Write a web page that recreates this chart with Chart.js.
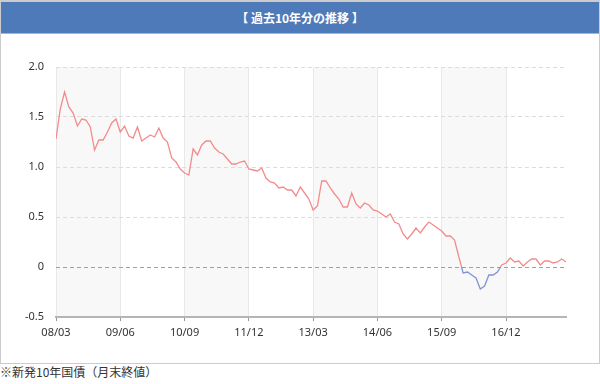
<!DOCTYPE html>
<html>
<head>
<meta charset="utf-8">
<script src="https://cdn.jsdelivr.net/npm/chart.js"></script>
<style>
  body { margin: 0; background: #fff; width: 600px; height: 384px; position: relative; overflow: hidden; }
  .box { position: absolute; left: 0; top: 0; width: 598px; height: 361px; border: 1px solid #ccc; border-top: 2px solid #ccc; }
  .title { position: absolute; left: 1px; top: 2px; width: 598px; height: 31px; background: #4f7ab9; border-bottom: 1px solid #9fb5da;
           color: #fff; font: bold 12px "Noto Sans CJK JP", sans-serif; line-height: 31px; text-align: center; }
  .wrap { position: absolute; left: 1px; top: 34px; width: 598px; height: 329px; }
  .note { position: absolute; left: 0; top: 363px; font: 12px "Noto Sans CJK JP", sans-serif; color: #333; line-height: 17px; }
</style>
</head>
<body>
<div class="box"></div>
<div class="title">【 過去10年分の推移 】</div>
<div class="wrap"><canvas id="myChart"></canvas></div>
<div class="note">※新発10年国債（月末終値）</div>

<script>
  // monthly closing yield, 2008/03 .. 2018/02
  const startYear = 2008, startMonth = 3;
  const yields = [
    1.28, 1.58, 1.75, 1.60, 1.54, 1.41, 1.48, 1.47, 1.40, 1.17,              // 2008 (Mar-Dec)
    1.27, 1.27, 1.35, 1.44, 1.48, 1.35, 1.41, 1.31, 1.29, 1.40, 1.26, 1.29,  // 2009
    1.32, 1.30, 1.39, 1.29, 1.25, 1.09, 1.05, 0.98, 0.94, 0.92, 1.18, 1.12,  // 2010
    1.22, 1.26, 1.26, 1.19, 1.15, 1.13, 1.08, 1.03, 1.03, 1.05, 1.06, 0.98,  // 2011
    0.97, 0.96, 0.99, 0.89, 0.85, 0.84, 0.79, 0.80, 0.77, 0.77, 0.71, 0.80,  // 2012
    0.74, 0.68, 0.57, 0.61, 0.86, 0.86, 0.79, 0.73, 0.68, 0.60, 0.60, 0.74,  // 2013
    0.63, 0.59, 0.64, 0.62, 0.57, 0.56, 0.53, 0.50, 0.53, 0.45, 0.43, 0.33,  // 2014
    0.28, 0.33, 0.39, 0.34, 0.40, 0.45, 0.42, 0.39, 0.36, 0.31, 0.31, 0.27,  // 2015
    0.10, -0.06, -0.05, -0.08, -0.11, -0.22, -0.19, -0.08, -0.08, -0.05, 0.02, 0.04, // 2016
    0.09, 0.05, 0.06, 0.01, 0.05, 0.08, 0.08, 0.02, 0.06, 0.06, 0.04, 0.05,  // 2017
    0.08, 0.05                                                               // 2018 (Jan-Feb)
  ];
  const tickLabels = ['08/03', '09/06', '10/09', '11/12', '13/03', '14/06', '15/09', '16/12'];
  const yMin = -0.5, yMax = 2.0, yStep = 0.5;

  const months = yields.map((v, i) => {
    const m = startMonth - 1 + i;
    const yy = String((startYear + Math.floor(m / 12)) % 100).padStart(2, '0');
    const mm = String(m % 12 + 1).padStart(2, '0');
    return yy + '/' + mm;
  });
  const tickIdx = tickLabels.map(t => months.indexOf(t));

  const red = '#f28b8b', blue = '#8093d4';

  // alternating grey bands between the labelled ticks
  const bands = {
    id: 'bands',
    beforeDraw(chart) {
      const {ctx, chartArea: a, scales: {x}} = chart;
      ctx.save();
      ctx.fillStyle = '#f8f8f8';
      for (let i = 0; i < tickIdx.length; i += 2) {
        const x0 = x.getPixelForValue(tickIdx[i]);
        const x1 = i + 1 < tickIdx.length ? x.getPixelForValue(tickIdx[i + 1]) : a.right;
        ctx.fillRect(x0, a.top, x1 - x0, a.bottom - a.top);
      }
      ctx.restore();
    }
  };

  const ctx = document.getElementById('myChart');

  chart = new Chart(ctx, {
    type: 'line',
    data: {
      datasets: [{
        data: yields.map((v, i) => ({x: i, y: v})),
        borderWidth: 1.3,
        pointRadius: 0,
        tension: 0,
        borderColor: (c) => {
          const {ctx, chartArea, scales} = c.chart;
          if (!chartArea) return red;
          const y0 = scales.y.getPixelForValue(0);
          const s = Math.min(1, Math.max(0, (y0 - chartArea.top) / (chartArea.bottom - chartArea.top)));
          const g = ctx.createLinearGradient(0, chartArea.top, 0, chartArea.bottom);
          g.addColorStop(0, red); g.addColorStop(s, red);
          g.addColorStop(s, blue); g.addColorStop(1, blue);
          return g;
        }
      }]
    },
    options: {
      responsive: true,
      maintainAspectRatio: false,
      animation: false,
      layout: { padding: { top: 33, right: 33, left: 0, bottom: 0 } },
      plugins: { legend: { display: false }, tooltip: { enabled: false } },
      scales: {
        x: {
          type: 'linear',
          min: 0,
          max: yields.length - 1,
          afterBuildTicks: (s) => { s.ticks = tickIdx.map(v => ({value: v})); },
          afterFit: (s) => { s.height = 46; },
          ticks: {
            autoSkip: false,
            maxRotation: 0,
            padding: 5,
            color: '#333',
            font: { family: 'Noto Sans', size: 11 },
            callback: (v) => months[v]
          },
          grid: { color: '#e8e8e8', tickColor: '#999', tickLength: 4, lineWidth: 1 },
          border: { color: '#b5b5b5', width: 2 }
        },
        y: {
          min: yMin,
          max: yMax,
          afterFit: (s) => { s.width = 55; },
          ticks: {
            stepSize: yStep,
            padding: 12,
            color: '#333',
            font: { family: 'Noto Sans', size: 11 },
            callback: (v) => v === 0 ? '0' : v.toFixed(1)
          },
          grid: {
            drawTicks: false,
            color: (c) => c.tick.value === yMin ? 'rgba(0,0,0,0)' : (c.tick.value === 0 ? '#a0a0a0' : '#dcdcdc')
          },
          border: { display: false, dash: [4, 3] }
        }
      }
    },
    plugins: [bands]
  });
</script>
</body>
</html>
